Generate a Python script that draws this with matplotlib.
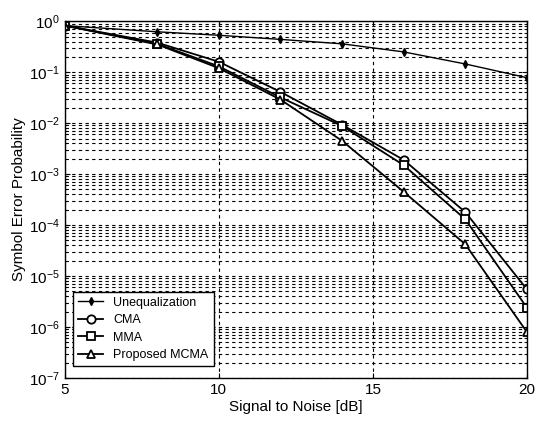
import numpy as np
import matplotlib
matplotlib.use('Agg')
import matplotlib.pyplot as plt
from matplotlib.ticker import LogLocator, NullFormatter

plt.rcParams['font.family'] = ['Liberation Sans', 'DejaVu Sans']
plt.rcParams['mathtext.fontset'] = 'custom'
plt.rcParams['mathtext.rm'] = 'Liberation Sans'

# SNR in dB
snr = [5, 8, 10, 12, 14, 16, 18, 20]

# symbol error probability
unequalization = [0.82, 0.62, 0.53, 0.44, 0.36, 0.25, 0.145, 0.078]
cma = [0.82, 0.38, 0.16, 0.041, 0.0093, 0.0019, 0.00018, 5.5e-6]
mma = [0.82, 0.36, 0.13, 0.032, 0.0088, 0.0015, 0.00013, 2.4e-6]
mcma = [0.82, 0.35, 0.12, 0.029, 0.0045, 0.00045, 4.2e-5, 8e-7]

fig = plt.figure(figsize=(5.36, 4.33), dpi=100)
ax = fig.add_axes([0.121, 0.127, 0.862, 0.824])

ax.plot(snr, unequalization, color='black', lw=1.0, marker='d', ms=4,
        mfc='black', label='Unequalization')
ax.plot(snr, cma, color='black', lw=1.3, marker='o', ms=6,
        mfc='white', mew=1.3, label='CMA')
ax.plot(snr, mma, color='black', lw=1.3, marker='s', ms=6,
        mfc='white', mew=1.3, label='MMA')
ax.plot(snr, mcma, color='black', lw=1.3, marker='^', ms=6,
        mfc='white', mew=1.3, label='Proposed MCMA')

ax.set_yscale('log')
ax.set_xlim(5, 20)
ax.set_ylim(1e-7, 1)
ax.set_xticks([5, 10, 15, 20])
ax.yaxis.set_major_locator(LogLocator(base=10, numticks=10))
ax.yaxis.set_minor_locator(LogLocator(base=10, subs=np.arange(2, 10), numticks=20))
ax.yaxis.set_minor_formatter(NullFormatter())

ax.grid(True, which='major', color='black', linestyle=(0, (3, 3)), lw=0.8)
ax.grid(True, which='minor', axis='y', color='black', linestyle=(0, (3, 3)), lw=0.8)

ax.tick_params(direction='in', which='both', top=True, right=True, labelsize=11)
ax.tick_params(which='minor', length=2)
for s in ax.spines.values():
    s.set_linewidth(1.0)

ax.set_xlabel('Signal to Noise [dB]', fontsize=11, labelpad=2)
ax.set_ylabel('Symbol Error Probability', fontsize=11, labelpad=2)

leg = ax.legend(loc='lower left', fontsize=9, frameon=True, fancybox=False,
                edgecolor='black', framealpha=1, borderaxespad=0.5,
                handlelength=2.0, labelspacing=0.45, bbox_to_anchor=(0.005, 0.015))
leg.get_frame().set_linewidth(1.0)

plt.savefig('out.png', dpi=100)
